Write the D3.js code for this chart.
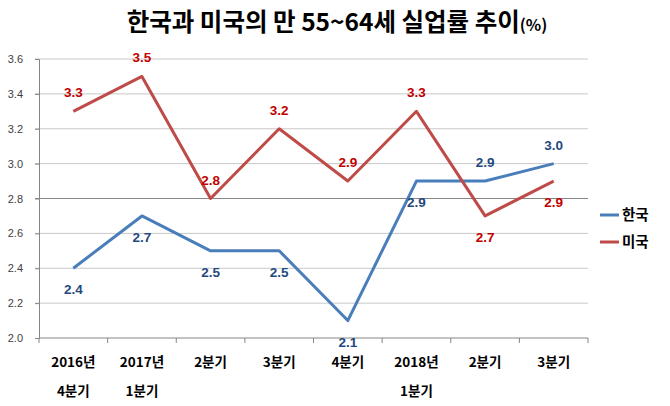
<!DOCTYPE html>
<html>
<head>
    <meta charset="utf-8">
    <title>한국과 미국의 만 55~64세 실업률 추이</title>
    <script src="https://d3js.org/d3.v7.min.js"></script>
    <style>
        body { margin: 0; background: #fff; }
        text { font-family: "Noto Sans CJK KR", "Noto Sans", sans-serif; }
    </style>
</head>
<body>
    <svg width="670" height="406"></svg>

    <script>
        // data
        const categories = [["2016년", "4분기"], ["2017년", "1분기"], ["2분기"], ["3분기"], ["4분기"], ["2018년", "1분기"], ["2분기"], ["3분기"]];
        const korea = [2.4, 2.7, 2.5, 2.5, 2.1, 2.9, 2.9, 3.0];
        const usa = [3.3, 3.5, 2.8, 3.2, 2.9, 3.3, 2.7, 2.9];
        const yTicks = [2.0, 2.2, 2.4, 2.6, 2.8, 3.0, 3.2, 3.4, 3.6];

        const svg = d3.select("svg");
        const plotLeft = 39, plotRight = 588, plotTop = 59, plotBottom = 338;

        const x = d3.scaleBand()
            .domain(d3.range(categories.length))
            .range([plotLeft, plotRight]);
        const y = d3.scaleLinear()
            .domain([2.0, 3.6])
            .range([plotBottom, plotTop]);

        // title
        const title = svg.append("text")
            .attr("x", 337)
            .attr("y", 31)
            .attr("text-anchor", "middle")
            .attr("font-weight", "bold")
            .attr("fill", "#000");
        title.append("tspan").attr("font-size", 24.5).text("한국과 미국의 만 55~64세 실업률 추이");
        title.append("tspan").attr("font-size", 16).text("(%)");

        // grid
        svg.append("g")
            .selectAll("line")
            .data(yTicks.slice(1))
            .join("line")
            .attr("x1", plotLeft - 4)
            .attr("x2", plotRight)
            .attr("y1", d => y(d))
            .attr("y2", d => y(d))
            .attr("stroke", d => Math.abs(d - 2.8) < 1e-9 ? "#868686" : "#c8c8c8")
            .attr("stroke-width", 1);

        // y axis
        const yAxis = svg.append("g")
            .attr("transform", `translate(${plotLeft},0)`)
            .call(d3.axisLeft(y).tickValues(yTicks).tickFormat(d3.format(".1f")).tickSize(4).tickPadding(12));
        yAxis.select(".domain").attr("stroke", "#868686");
        yAxis.selectAll(".tick line").attr("stroke", "#868686");
        yAxis.selectAll(".tick text")
            .attr("font-size", 11)
            .attr("fill", "#404040")
            .style("font-family", "'Liberation Sans', sans-serif");

        // x axis
        const xAxis = svg.append("g")
            .attr("transform", `translate(0,${plotBottom})`);
        xAxis.append("line")
            .attr("x1", plotLeft).attr("x2", plotRight)
            .attr("stroke", "#868686");
        xAxis.selectAll("line.tk")
            .data(d3.range(categories.length + 1))
            .join("line")
            .attr("class", "tk")
            .attr("x1", i => plotLeft + i * x.bandwidth())
            .attr("x2", i => plotLeft + i * x.bandwidth())
            .attr("y1", 0).attr("y2", 5)
            .attr("stroke", "#868686");
        xAxis.selectAll("text.cat")
            .data(categories)
            .join("text")
            .attr("class", "cat")
            .attr("text-anchor", "middle")
            .attr("font-size", 13.5)
            .attr("font-weight", "bold")
            .attr("fill", "#000")
            .each(function (d, i) {
                d3.select(this).selectAll("tspan")
                    .data(d)
                    .join("tspan")
                    .attr("x", x(i) + x.bandwidth() / 2)
                    .attr("y", (t, j) => 29 + j * 29)
                    .text(t => t);
            });

        const series = [
            { name: "한국", values: korea, line: "#4a7ebb", label: "#1f497d", other: usa },
            { name: "미국", values: usa, line: "#be4b48", label: "#c00000", other: korea }
        ];

        const line = d3.line()
            .x((d, i) => x(i) + x.bandwidth() / 2)
            .y(d => y(d));

        series.forEach(s => {
            svg.append("path")
                .datum(s.values)
                .attr("d", line)
                .attr("fill", "none")
                .attr("stroke", s.line)
                .attr("stroke-width", 3)
                .attr("stroke-linejoin", "round");
        });

        series.forEach(s => {
            svg.append("g")
                .selectAll("text")
                .data(s.values)
                .join("text")
                .attr("x", (d, i) => x(i) + x.bandwidth() / 2)
                .attr("y", (d, i) => y(d) + (d > s.other[i] ? -14 : 26))
                .attr("text-anchor", "middle")
                .attr("font-size", 13.5)
                .attr("font-weight", "bold")
                .attr("fill", s.label)
                .style("font-family", "'Liberation Sans', sans-serif")
                .text(d => d.toFixed(1));
        });

        // legend
        const legend = svg.append("g")
            .selectAll("g")
            .data(series)
            .join("g")
            .attr("transform", (d, i) => `translate(600,${215 + i * 27})`);
        legend.append("line")
            .attr("x1", 0).attr("x2", 19)
            .attr("stroke", d => d.line)
            .attr("stroke-width", 3);
        legend.append("text")
            .attr("x", 22)
            .attr("y", 5)
            .attr("font-size", 14.5)
            .attr("font-weight", "bold")
            .attr("fill", "#000")
            .text(d => d.name);
    </script>
</body>
</html>
